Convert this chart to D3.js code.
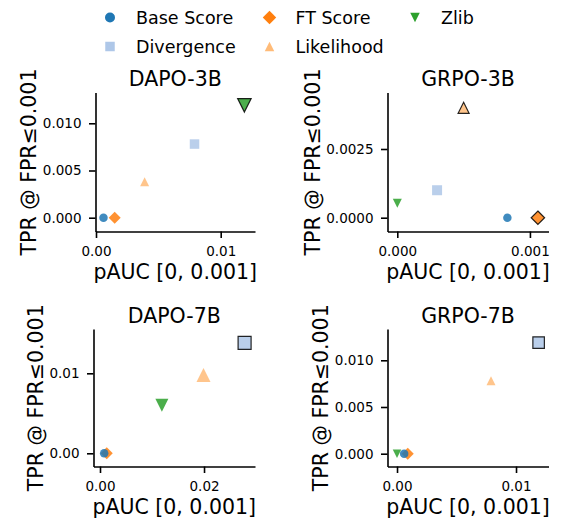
<!DOCTYPE html>
<html>
<head>
<meta charset="utf-8">
<script src="https://cdn.jsdelivr.net/npm/d3@7"></script>
<style>
  body { margin: 0; background: #fff; }
  text { font-family: "DejaVu Sans", sans-serif; fill: #000; }
</style>
</head>
<body>
<svg id="chart" width="563" height="524"></svg>
<script>
// ---- data -------------------------------------------------------------
const methods = ["Base Score", "FT Score", "Zlib", "Divergence", "Likelihood"];
const panelTitles = ["DAPO-3B", "GRPO-3B", "DAPO-7B", "GRPO-7B"];

// pAUC [0, 0.001] and TPR @ FPR<=0.001 per method (same order as `methods`)
const dapo3bPAUC = [0.0006, 0.0015, 0.0119, 0.0079, 0.0039];
const dapo3bTPR  = [0, 0, 0.0119, 0.0078, 0.0038];
const grpo3bPAUC = [0.00083, 0.00106, 0.0, 0.0003, 0.0005];
const grpo3bTPR  = [0, 0, 0.00053, 0.001, 0.004];
const dapo7bPAUC = [0.0008, 0.0013, 0.0119, 0.0278, 0.0199];
const dapo7bTPR  = [0, 0, 0.006, 0.0138, 0.0098];
const grpo7bPAUC = [0.0006, 0.0009, 0.0, 0.0119, 0.0079];
const grpo7bTPR  = [0, 0, 0, 0.0119, 0.0078];

// tick values
const dapo3bXTicks = [0, 0.01],  dapo3bYTicks = [0, 0.005, 0.01];
const grpo3bXTicks = [0, 0.001], grpo3bYTicks = [0, 0.0025];
const dapo7bXTicks = [0, 0.02],  dapo7bYTicks = [0, 0.01];
const grpo7bXTicks = [0, 0.01],  grpo7bYTicks = [0, 0.005, 0.01];

// ---- styling ----------------------------------------------------------
const methodColors = ["#1f77b4", "#ff7f0e", "#2ca02c", "#aec7e8", "#ffbb78"];
const methodShapes = ["circle", "diamond", "triangleDown", "square", "triangleUp"];
const drawOrder = [3, 4, 2, 1, 0]; // Base Score ends up on top

const panels = [
  { title: panelTitles[0], xs: dapo3bPAUC, ys: dapo3bTPR, xTicks: dapo3bXTicks, yTicks: dapo3bYTicks,
    xFmt: ".2f", yFmt: ".3f", xLim: [-0.00004, 0.01275], yLim: [-0.00146, 0.01326],
    box: { left: 95.5, right: 255, top: 92.5, bottom: 231.5 }, sizes: [8.5, 8.5, 13.5, 9.5, 9] },
  { title: panelTitles[1], xs: grpo3bPAUC, ys: grpo3bTPR, xTicks: grpo3bXTicks, yTicks: grpo3bYTicks,
    xFmt: ".3f", yFmt: ".4f", xLim: [-0.0000738, 0.00114], yLim: [-0.000502, 0.004556],
    box: { left: 387.5, right: 548.5, top: 92.5, bottom: 231.5 }, sizes: [8.5, 9.5, 9, 10, 11] },
  { title: panelTitles[2], xs: dapo7bPAUC, ys: dapo7bTPR, xTicks: dapo7bXTicks, yTicks: dapo7bYTicks,
    xFmt: ".2f", yFmt: ".2f", xLim: [-0.00125, 0.0298], yLim: [-0.00165, 0.01554],
    box: { left: 93.5, right: 255, top: 329, bottom: 466.5 }, sizes: [8.5, 8.5, 13, 13, 14] },
  { title: panelTitles[3], xs: grpo7bPAUC, ys: grpo7bTPR, xTicks: grpo7bXTicks, yTicks: grpo7bYTicks,
    xFmt: ".2f", yFmt: ".3f", xLim: [-0.0008, 0.01273], yLim: [-0.00137, 0.01335],
    box: { left: 387.5, right: 548.5, top: 329, bottom: 466.5 }, sizes: [8.5, 8.5, 8.5, 11.5, 9] }
];

// marker outline centred on (0,0); s is the nominal marker width
function markerPath(shape, s) {
  const h = s / 2;
  switch (shape) {
    case "circle":
      return `M${h},0A${h},${h} 0 1,1 ${-h},0A${h},${h} 0 1,1 ${h},0Z`;
    case "square":
      return `M${-h},${-h}H${h}V${h}H${-h}Z`;
    case "diamond": {
      const d = h * Math.SQRT2;
      return `M0,${-d}L${d},0L0,${d}L${-d},0Z`;
    }
    case "triangleUp":
      return `M0,${-h}L${h},${h}L${-h},${h}Z`;
    case "triangleDown":
      return `M0,${h}L${h},${-h}L${-h},${-h}Z`;
  }
}

const svg = d3.select("#chart");

// ---- legend -----------------------------------------------------------
const legendSlots = [
  { m: 0, x: 110,   y: 17.5 }, { m: 3, x: 110,   y: 46.5 },
  { m: 1, x: 269.5, y: 17.5 }, { m: 4, x: 269.5, y: 46.5 },
  { m: 2, x: 415,   y: 17.5 }
];
const legend = svg.append("g").attr("class", "legend");
legendSlots.forEach(d => {
  const g = legend.append("g").attr("transform", `translate(${d.x},${d.y})`);
  g.append("path")
    .attr("d", markerPath(methodShapes[d.m], d.m === 0 ? 10 : 9.5))
    .attr("fill", methodColors[d.m]);
  g.append("text")
    .attr("x", 26)
    .attr("y", 6.6)
    .attr("font-size", 17.5)
    .text(methods[d.m]);
});

// ---- panels -----------------------------------------------------------
panels.forEach(p => {
  const b = p.box;
  const x = d3.scaleLinear().domain(p.xLim).range([b.left, b.right]);
  const y = d3.scaleLinear().domain(p.yLim).range([b.bottom, b.top]);
  const g = svg.append("g");

  const xAxis = g.append("g")
    .attr("transform", `translate(0,${b.bottom})`)
    .call(d3.axisBottom(x).tickValues(p.xTicks).tickFormat(d3.format(p.xFmt))
      .tickSize(6.5).tickSizeOuter(0).tickPadding(8.5));
  const yAxis = g.append("g")
    .attr("transform", `translate(${b.left},0)`)
    .call(d3.axisLeft(y).tickValues(p.yTicks).tickFormat(d3.format(p.yFmt))
      .tickSize(6.5).tickSizeOuter(0).tickPadding(7.5));

  [xAxis, yAxis].forEach(a => {
    a.attr("font-family", null);
    a.select(".domain").attr("stroke", "#000").attr("stroke-width", 1.6);
    a.selectAll(".tick line").attr("stroke", "#000").attr("stroke-width", 1.6);
    a.selectAll(".tick text")
      .attr("font-size", 13.5)
      .attr("fill", "#000");
  });

  // title
  g.append("text")
    .attr("x", (b.left + b.right) / 2)
    .attr("y", b.top - 6.5)
    .attr("text-anchor", "middle")
    .attr("font-size", 20.5)
    .text(p.title);

  // x label
  g.append("text")
    .attr("x", (b.left + b.right) / 2)
    .attr("y", b.bottom + 47.5)
    .attr("text-anchor", "middle")
    .attr("font-size", 20.5)
    .text("pAUC [0, 0.001]");

  // y label placed just left of the tick labels
  const tickLeft = d3.min(yAxis.selectAll(".tick text").nodes(), n => b.left + n.getBBox().x);
  g.append("text")
    .attr("transform", `translate(${tickLeft - 6.5},${(b.top + b.bottom) / 2}) rotate(-90)`)
    .attr("text-anchor", "middle")
    .attr("font-size", 20.5)
    .text("TPR @ FPR\u22640.001");

  // markers; the best pAUC and best TPR get a dark outline
  const bestX = d3.maxIndex(p.xs);
  const bestY = d3.maxIndex(p.ys);
  const pts = drawOrder.map(i => ({ i, vx: p.xs[i], vy: p.ys[i] }));
  g.append("g").selectAll("path")
    .data(pts)
    .join("path")
    .attr("transform", d => `translate(${x(d.vx)},${y(d.vy)})`)
    .attr("d", d => markerPath(methodShapes[d.i], p.sizes[d.i]))
    .attr("fill", d => methodColors[d.i])
    .attr("fill-opacity", 0.85)
    .attr("stroke", d => (d.i === bestX || d.i === bestY) ? "#000" : "none")
    .attr("stroke-opacity", 0.85)
    .attr("stroke-width", 1.2);
});
</script>
</body>
</html>
